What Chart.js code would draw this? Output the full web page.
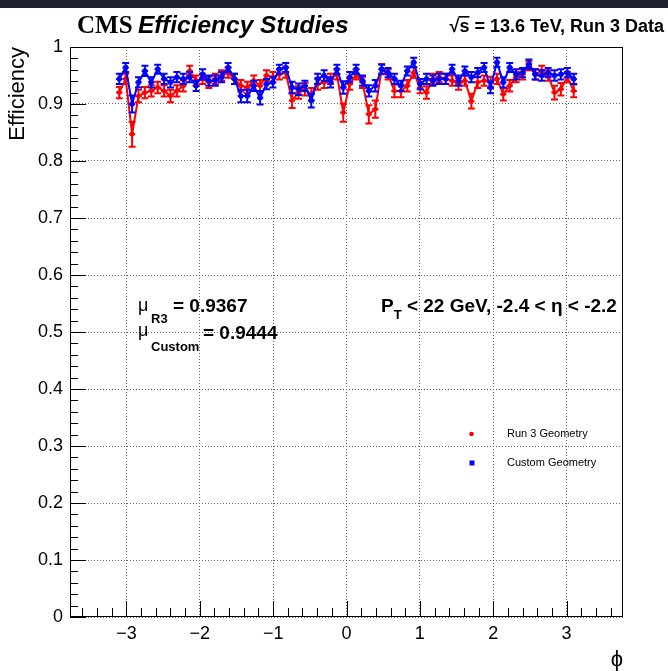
<!DOCTYPE html>
<html><head><meta charset="utf-8">
<script src="https://cdn.jsdelivr.net/npm/chart.js@4.4.1/dist/chart.umd.min.js"></script>
<style>html,body{margin:0;padding:0;background:#fff;overflow:hidden}#wrap{width:668px;height:671px}</style>
</head><body><div id="wrap"><canvas id="c" width="668" height="671"></canvas></div>
<script>
// ---- data ----
const phi = [-3.098,-3.011,-2.923,-2.836,-2.749,-2.662,-2.574,-2.487,-2.400,-2.313,
 -2.225,-2.138,-2.051,-1.963,-1.876,-1.789,-1.702,-1.614,-1.527,-1.440,
 -1.353,-1.265,-1.178,-1.091,-1.004,-0.916,-0.829,-0.742,-0.654,-0.567,
 -0.480,-0.393,-0.305,-0.218,-0.131,-0.044,0.044,0.131,0.218,0.305,
 0.393,0.480,0.567,0.654,0.742,0.829,0.916,1.004,1.091,1.178,
 1.265,1.353,1.440,1.527,1.614,1.702,1.789,1.876,1.963,2.051,
 2.138,2.225,2.313,2.400,2.487,2.574,2.662,2.749,2.836,2.923,
 3.011,3.098];
const effR3 = [0.920,0.944,0.847,0.914,0.920,0.923,0.929,0.923,0.914,0.923,
 0.932,0.958,0.941,0.944,0.938,0.944,0.950,0.955,0.944,0.932,
 0.929,0.941,0.932,0.950,0.947,0.952,0.955,0.906,0.920,0.926,
 0.917,0.935,0.938,0.944,0.952,0.885,0.935,0.952,0.938,0.882,
 0.891,0.961,0.952,0.923,0.923,0.932,0.955,0.929,0.920,0.944,
 0.947,0.944,0.941,0.935,0.941,0.905,0.938,0.941,0.938,0.944,
 0.917,0.932,0.947,0.952,0.967,0.952,0.958,0.950,0.920,0.926,
 0.947,0.923];
const errR3 = [0.010,0.009,0.022,0.011,0.010,0.010,0.010,0.010,0.011,0.010,
 0.010,0.009,0.009,0.009,0.010,0.009,0.009,0.009,0.009,0.010,
 0.010,0.009,0.010,0.009,0.009,0.009,0.009,0.013,0.011,0.011,
 0.011,0.010,0.010,0.009,0.009,0.016,0.010,0.009,0.010,0.016,
 0.015,0.009,0.009,0.011,0.011,0.010,0.009,0.010,0.011,0.009,
 0.009,0.009,0.009,0.010,0.009,0.013,0.010,0.009,0.010,0.009,
 0.011,0.010,0.009,0.009,0.008,0.009,0.009,0.009,0.012,0.011,
 0.009,0.011];
const effCustom = [0.944,0.964,0.900,0.938,0.958,0.938,0.961,0.944,0.938,0.947,
 0.944,0.947,0.932,0.952,0.941,0.941,0.947,0.964,0.944,0.914,
 0.914,0.932,0.911,0.935,0.938,0.961,0.964,0.929,0.926,0.932,
 0.906,0.944,0.950,0.938,0.961,0.929,0.947,0.961,0.941,0.923,
 0.932,0.961,0.955,0.944,0.932,0.958,0.973,0.935,0.944,0.941,
 0.944,0.944,0.961,0.941,0.958,0.947,0.955,0.964,0.929,0.973,
 0.938,0.964,0.952,0.955,0.970,0.952,0.950,0.955,0.950,0.952,
 0.955,0.944];
const errCustom = [0.009,0.008,0.015,0.009,0.009,0.009,0.008,0.009,0.009,0.009,
 0.009,0.009,0.009,0.009,0.009,0.009,0.009,0.008,0.009,0.011,
 0.011,0.009,0.012,0.009,0.009,0.008,0.008,0.010,0.010,0.009,
 0.012,0.009,0.009,0.009,0.008,0.011,0.009,0.008,0.009,0.010,
 0.010,0.008,0.008,0.009,0.009,0.008,0.008,0.009,0.009,0.009,
 0.009,0.009,0.008,0.009,0.008,0.009,0.008,0.008,0.010,0.008,
 0.009,0.008,0.009,0.008,0.008,0.009,0.009,0.008,0.009,0.009,
 0.008,0.009];
const halfBin = 0.0436;
const xTicks = [-3,-2,-1,0,1,2,3];
const yTicks = [0,0.1,0.2,0.3,0.4,0.5,0.6,0.7,0.8,0.9,1];
const seriesNames = ['Run 3 Geometry','Custom Geometry'];
const meanR3 = '0.9367', meanCustom = '0.9444';

// ---- plugins ----
const SANS = '"Liberation Sans", Arial, Helvetica, sans-serif';
const bgPlugin = {
  id:'bg',
  beforeDraw(chart){
    const c=chart.ctx; c.save();
    c.fillStyle='#ffffff'; c.fillRect(0,0,chart.width,chart.height);
    c.fillStyle='#1d222e'; c.fillRect(0,0,chart.width,8);
    c.restore();
  }
};
const errPlugin = {
  id:'errbars',
  afterDatasetDraw(chart,args){
    const ds = chart.data.datasets[args.index];
    if(!ds.errs) return;
    const xs=chart.scales.x, ys=chart.scales.y, c=chart.ctx;
    c.save(); c.strokeStyle=ds.borderColor; c.lineWidth=2;
    ds.data.forEach((p,i)=>{
      const px=xs.getPixelForValue(p.x);
      const hl=xs.getPixelForValue(p.x-halfBin), hr=xs.getPixelForValue(p.x+halfBin);
      const yt=ys.getPixelForValue(p.y+ds.errs[i]), yb=ys.getPixelForValue(p.y-ds.errs[i]);
      const cap=3.5;
      c.beginPath();
      c.moveTo(px,yt); c.lineTo(px,yb);
      c.moveTo(hl,ys.getPixelForValue(p.y)); c.lineTo(hr,ys.getPixelForValue(p.y));
      c.moveTo(px-cap,yt); c.lineTo(px+cap,yt);
      c.moveTo(px-cap,yb); c.lineTo(px+cap,yb);
      c.stroke();
    });
    c.restore();
  }
};
const framePlugin = {
  id:'frame',
  afterDraw(chart){
    const a=chart.chartArea, c=chart.ctx, xs=chart.scales.x, ys=chart.scales.y;
    c.save(); c.strokeStyle='#000'; c.lineWidth=1;
    c.strokeRect(Math.round(a.left)+0.5,Math.round(a.top)+0.5,Math.round(a.right-a.left)-1,Math.round(a.bottom-a.top)-1);
    c.beginPath();
    for(let k=-18;k<=18;k++){
      const v=k*0.2; if(Math.abs(v)>xs.max) continue;
      const major = (k%5===0);
      const px=Math.round(xs.getPixelForValue(v))+0.5;
      c.moveTo(px,a.bottom); c.lineTo(px,a.bottom-(major?16:9));
    }
    for(let k=0;k<=50;k++){
      const v=k*0.02; const major=(k%5===0);
      const py=Math.round(ys.getPixelForValue(v))+0.5;
      c.moveTo(a.left,py); c.lineTo(a.left+(major?16:8),py);
    }
    c.stroke(); c.restore();
  }
};
const textPlugin = {
  id:'texts',
  afterDraw(chart){
    const c=chart.ctx; c.save(); c.fillStyle='#000'; c.textBaseline='alphabetic'; c.textAlign='left';
    c.font='bold 25px "Liberation Serif", "Times New Roman", serif'; c.fillText('CMS',77,33);
    c.font='italic bold 24.5px '+SANS; c.fillText('Efficiency Studies',138,33);
    c.font='bold 18px '+SANS;
    const full='√s = 13.6 TeV, Run 3 Data';
    const w=c.measureText(full).width, x0=664-w;
    c.fillText(full,x0,32);
    const wr=c.measureText('√').width, ws=c.measureText('s').width;
    c.fillRect(x0+wr-1,32-16,ws+1,1.6);
    c.font='18px '+SANS; c.fillText('μ',138,311);
    c.font='bold 13px '+SANS; c.fillText('R3',151,323);
    c.font='bold 19px '+SANS; c.fillText('= '+meanR3,173,312);
    c.font='18px '+SANS; c.fillText('μ',138,336);
    c.font='bold 13px '+SANS; c.fillText('Custom',151,351);
    c.font='bold 19px '+SANS; c.fillText('= '+meanCustom,203,339);
    c.font='bold 19px '+SANS; c.fillText('P',381,312);
    const wp=c.measureText('P').width;
    c.font='bold 13px '+SANS; c.fillText('T',381+wp,319);
    const wt=c.measureText('T').width;
    c.font='bold 19px '+SANS; c.fillText(' < 22 GeV, -2.4 < η < -2.2',381+wp+wt,312);
    c.fillStyle='#ff0000'; c.beginPath(); c.arc(471.5,434,2.3,0,Math.PI*2); c.fill();
    c.fillStyle='#0000ff'; c.fillRect(469.5,460.5,5,5);
    c.fillStyle='#000'; c.font='11px '+SANS; c.textBaseline='middle';
    c.fillText(seriesNames[0],507,434); c.fillText(seriesNames[1],507,463);
    c.restore();
  }
};

const xFmt = v => v<0 ? '\u2212'+(-v) : String(v);
const yFmt = v => { const r=Math.round(v*10)/10; return r===0?'0':r===1?'1':r.toFixed(1); };

new Chart(document.getElementById('c'), {
  type:'scatter',
  data:{datasets:[
    {label:seriesNames[1], data:phi.map((x,i)=>({x,y:effCustom[i]})), errs:errCustom,
     borderColor:'#0000ff', backgroundColor:'#0000ff', showLine:true, borderWidth:2, tension:0,
     pointStyle:'rect', pointRadius:3.2, pointBorderWidth:0, order:0},
    {label:seriesNames[0], data:phi.map((x,i)=>({x,y:effR3[i]})), errs:errR3,
     borderColor:'#ff0000', backgroundColor:'#ff0000', showLine:true, borderWidth:2, tension:0,
     pointStyle:'circle', pointRadius:2.4, pointBorderWidth:0, order:1}
  ]},
  options:{
    responsive:false, animation:false, devicePixelRatio:1,
    layout:{padding:{top:47,right:45,left:0,bottom:0}},
    plugins:{legend:{display:false}, tooltip:{enabled:false}},
    elements:{point:{hoverRadius:3}},
    scales:{
      x:{type:'linear', min:-3.77, max:3.77,
        afterBuildTicks:s=>{s.ticks=xTicks.map(v=>({value:v}));},
        afterFit:s=>{s.height=54;},
        grid:{color:'#666', lineWidth:1, drawTicks:false},
        border:{display:false, dash:[1,2]},
        ticks:{color:'#000', font:{family:SANS, size:18}, padding:6, maxRotation:0, autoSkip:false, callback:xFmt},
        title:{display:true, text:'ϕ', align:'end', color:'#000', font:{family:SANS, size:22, lineHeight:1}, padding:0}
      },
      y:{type:'linear', min:0, max:1,
        afterBuildTicks:s=>{s.ticks=yTicks.map(v=>({value:v}));},
        afterFit:s=>{s.width=70;},
        grid:{color:'#666', lineWidth:1, drawTicks:false},
        border:{display:false, dash:[1,2]},
        ticks:{color:'#000', font:{family:SANS, size:18}, padding:7, autoSkip:false, callback:yFmt},
        title:{display:true, text:'Efficiency', align:'end', color:'#000', font:{family:SANS, size:22}, padding:{top:5,bottom:0}}
      }
    }
  },
  plugins:[bgPlugin, errPlugin, framePlugin, textPlugin]
});
</script></body></html>
